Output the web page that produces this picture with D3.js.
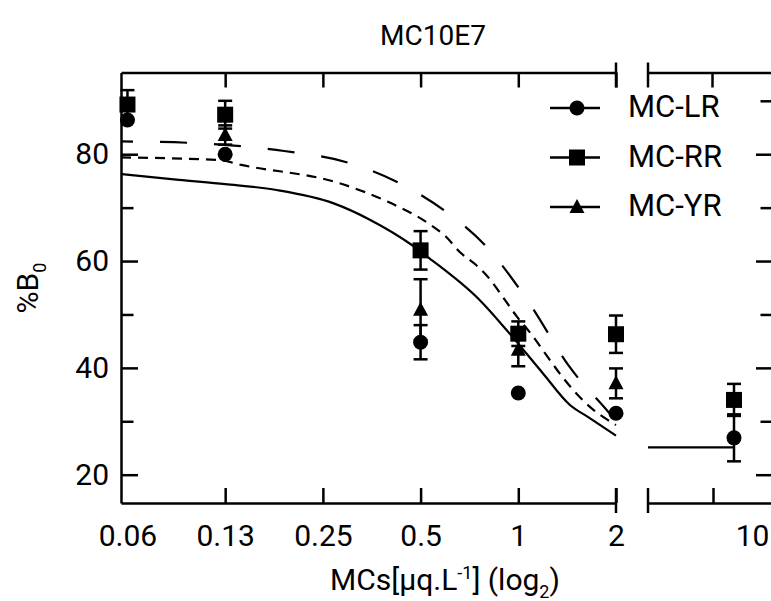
<!DOCTYPE html>
<html>
<head>
<meta charset="utf-8">
<script src="https://cdn.jsdelivr.net/npm/d3@7"></script>
<style>
  body { margin: 0; background: #fff; }
  svg { display: block; }
</style>
</head>
<body>
<svg id="chart"></svg>
<script>
// ---- data ----
const tickConcs = [0.0625, 0.125, 0.25, 0.5, 1, 2];
const tickLabels = ["0.06", "0.13", "0.25", "0.5", "1", "2"];
const yMajor = [20, 40, 60, 80];
const yMinor = [30, 50, 70, 90];

// measured points (left panel + the "10" point on the broken axis)
const pointConcs = [0.0625, 0.125, 0.5, 1, 2, 10];
const lrMean = [86.4, 80.0, 44.8, 35.3, 31.5, 26.9];
const lrErr  = [0, 0, 3.2, 0, 0, 4.4];
const rrMean = [89.3, 87.4, 62.0, 46.4, 46.3, 34.0];
const rrErr  = [2.7, 2.6, 3.6, 2.3, 3.5, 3.0];
const yrMean = [null, 83.6, 50.9, 43.4, 37.1, null];
const yrErr  = [null, 1.8, 5.7, 3.1, 2.8, null];

// fitted curves
const solidConc = [0.0597, 0.09, 0.125, 0.18, 0.27, 0.35, 0.47, 0.53, 0.76, 0.92, 1.19, 1.44, 1.66, 2];
const solidVal  = [76.3, 75.2, 74.4, 73.3, 70.8, 67.7, 63.0, 60.6, 52.7, 47.1, 39.0, 33.1, 30.6, 27.3];
const shortConc = [0.0597, 0.12, 0.14, 0.28, 0.4, 0.53, 0.6, 0.66, 0.74, 0.82, 0.9, 0.99, 1.1, 1.23, 1.34, 1.52, 1.7, 1.88, 2];
const shortVal  = [79.4, 78.9, 78.0, 74.6, 71.0, 67.0, 64.5, 61.7, 59.3, 56.5, 53.1, 49.6, 46.2, 42.1, 39.0, 35.0, 32.2, 30.3, 29.3];
const longConc  = [0.0597, 0.1, 0.19, 0.3, 0.5, 0.6, 0.8, 1.09, 1.43, 1.94, 2];
const longVal   = [82.4, 82.1, 80.6, 78.4, 72.4, 69.2, 62.6, 51.8, 40.4, 31.0, 30.0];
// flat fit segment on the right (broken) part of the axis
const rightConc = [8, 10];
const rightVal  = [25.1, 25.1];

const legendNames = ["MC-LR", "MC-RR", "MC-YR"];

// ---- setup ----
const width = 771, height = 601;
const FONT = "Roboto, 'Liberation Sans', sans-serif";
const svg = d3.select("#chart").attr("width", width).attr("height", height)
    .style("font-family", FONT);

const x = d3.scaleLog().base(2).domain([0.0597, 2]).range([121, 616]);
const x2 = d3.scaleLinear().domain([8, 12]).range([648, 820]);
const y = d3.scaleLinear().domain([14.7, 95.3]).range([503, 72.5]);

const yBottom = y.range()[0], yTop = y.range()[1];

function inkAxis(g) {
    g.attr("font-family", FONT).attr("font-size", 30);
    g.selectAll("path, line").attr("stroke", "#000").attr("stroke-width", 2.5);
    g.selectAll("text").attr("fill", "#000");
}

// left axis
svg.append("g").attr("transform", `translate(${x.range()[0]},0)`)
    .call(d3.axisLeft(y).tickValues(yMajor).tickSizeInner(-17).tickSizeOuter(0).tickPadding(12).tickFormat(d3.format("d")))
    .call(inkAxis);
svg.append("g").attr("transform", `translate(${x.range()[0]},0)`)
    .call(d3.axisLeft(y).tickValues(yMinor).tickSizeInner(-12.5).tickSizeOuter(0).tickFormat(""))
    .call(inkAxis)
    .call(g => g.select(".domain").remove());

// right axis (line sits just outside the window, ticks poke in)
svg.append("g").attr("transform", "translate(773,0)")
    .call(d3.axisLeft(y).tickValues(yMajor).tickSizeInner(17).tickSizeOuter(0).tickFormat(""))
    .call(inkAxis);
svg.append("g").attr("transform", "translate(773,0)")
    .call(d3.axisLeft(y).tickValues(yMinor).tickSizeInner(12.5).tickSizeOuter(0).tickFormat(""))
    .call(inkAxis)
    .call(g => g.select(".domain").remove());

// bottom axis, left part
svg.append("g").attr("transform", `translate(0,${yBottom})`)
    .call(d3.axisBottom(x).tickValues(tickConcs).tickFormat((d, i) => tickLabels[i])
        .tickSizeInner(-15).tickSizeOuter(0).tickPadding(22))
    .call(inkAxis)
    .call(g => g.selectAll(".tick line").filter(d => d === tickConcs[0]).remove());

// top axis, left part
svg.append("g").attr("transform", `translate(0,${yTop})`)
    .call(d3.axisTop(x).tickValues(tickConcs).tickFormat("").tickSizeInner(-15).tickSizeOuter(0))
    .call(inkAxis)
    .call(g => g.selectAll(".tick line").filter(d => d === tickConcs[0]).remove());

// right part of broken axis: tick sits left of the points, label right of them
svg.append("g").attr("transform", `translate(0,${yBottom})`)
    .call(d3.axisBottom(x2).tickValues([10]).tickFormat(d3.format("d"))
        .tickSizeInner(-15).tickSizeOuter(0).tickPadding(22))
    .call(inkAxis)
    .call(g => g.selectAll(".tick line").attr("transform", "translate(-21,0)"))
    .call(g => g.selectAll(".tick text").attr("dx", 18));
svg.append("g").attr("transform", `translate(0,${yTop})`)
    .call(d3.axisTop(x2).tickValues([10]).tickFormat("").tickSizeInner(-15).tickSizeOuter(0))
    .call(inkAxis)
    .call(g => g.selectAll(".tick line").attr("transform", "translate(-22,0)"));

// break marks
[x.range()[1], x2.range()[0]].forEach(bx => {
    svg.append("line").attr("x1", bx).attr("x2", bx).attr("y1", yBottom - 15).attr("y2", yBottom + 10)
        .attr("stroke", "#000").attr("stroke-width", 2.5);
    svg.append("line").attr("x1", bx).attr("x2", bx).attr("y1", yTop - 10).attr("y2", yTop + 15)
        .attr("stroke", "#000").attr("stroke-width", 2.5);
});

// ---- fitted curves ----
const line = d3.line().x(d => x(d[0])).y(d => y(d[1])).curve(d3.curveMonotoneX);
const curves = [
    { pts: d3.zip(solidConc, solidVal), dash: null, off: 0 },
    { pts: d3.zip(shortConc, shortVal), dash: "10,7", off: 0 },
    { pts: d3.zip(longConc, longVal), dash: "27,27", off: 15 }
];
curves.forEach(c => {
    svg.append("path").datum(c.pts)
        .attr("d", line)
        .attr("fill", "none")
        .attr("stroke", "#000")
        .attr("stroke-width", 2.2)
        .attr("stroke-dasharray", c.dash)
        .attr("stroke-dashoffset", c.off);
});
svg.append("path").datum(d3.zip(rightConc, rightVal))
    .attr("d", d3.line().x(d => x2(d[0])).y(d => y(d[1])))
    .attr("fill", "none").attr("stroke", "#000").attr("stroke-width", 2.2);

// ---- points with error bars ----
const px = c => c > 2 ? x2(c) : x(c);

const symbols = {
    circle: (g, cx, cy) => g.append("circle").attr("cx", cx).attr("cy", cy).attr("r", 7.5),
    square: (g, cx, cy) => g.append("rect").attr("x", cx - 8).attr("y", cy - 8).attr("width", 16).attr("height", 16),
    triangle: (g, cx, cy) => g.append("path").attr("d", `M${cx},${cy - 8}L${cx + 7.5},${cy + 6}L${cx - 7.5},${cy + 6}Z`)
};

const series = [
    { name: legendNames[0], mean: lrMean, err: lrErr, sym: "circle" },
    { name: legendNames[1], mean: rrMean, err: rrErr, sym: "square" },
    { name: legendNames[2], mean: yrMean, err: yrErr, sym: "triangle" }
];

const errG = svg.append("g").attr("stroke", "#000").attr("stroke-width", 2.5);
series.forEach(s => {
    pointConcs.forEach((c, i) => {
        const m = s.mean[i], e = s.err[i];
        if (m == null || !e) return;
        const cx = px(c);
        errG.append("line").attr("x1", cx).attr("x2", cx).attr("y1", y(m - e)).attr("y2", y(m + e));
        [m - e, m + e].forEach(v => {
            errG.append("line").attr("x1", cx - 7).attr("x2", cx + 7).attr("y1", y(v)).attr("y2", y(v));
        });
    });
});

const markG = svg.append("g").attr("fill", "#000");
series.forEach(s => {
    pointConcs.forEach((c, i) => {
        const m = s.mean[i];
        if (m == null) return;
        symbols[s.sym](markG, px(c), y(m));
    });
});

// ---- legend ----
const legend = svg.append("g").attr("transform", "translate(550,108)");
series.forEach((s, i) => {
    const row = legend.append("g").attr("transform", `translate(0,${i * 49.5})`);
    row.append("line").attr("x1", 0).attr("x2", 50).attr("y1", 0).attr("y2", 0)
        .attr("stroke", "#000").attr("stroke-width", 2.5);
    symbols[s.sym](row, 27, 0).attr("fill", "#000");
    row.append("text").attr("x", 78).attr("y", 9)
        .attr("font-size", 31).attr("fill", "#000").text(s.name);
});

// ---- titles ----
svg.append("text").attr("x", 433).attr("y", 45).attr("text-anchor", "middle")
    .attr("font-size", 28).attr("fill", "#000").text("MC10E7");

const xt = svg.append("text").attr("x", 445).attr("y", 590).attr("text-anchor", "middle")
    .attr("font-size", 30).attr("fill", "#000");
xt.append("tspan").text("MCs[μq.L");
xt.append("tspan").attr("font-size", 18).attr("dy", -11).text("-1");
xt.append("tspan").attr("dy", 11).text("] (log");
xt.append("tspan").attr("font-size", 18).attr("dy", 8).text("2");
xt.append("tspan").attr("dy", -8).text(")");

const yt = svg.append("text").attr("transform", "translate(38,288) rotate(-90)")
    .attr("text-anchor", "middle").attr("font-size", 30).attr("fill", "#000");
yt.append("tspan").text("%B");
yt.append("tspan").attr("font-size", 18).attr("dy", 8).text("0");
</script>
</body>
</html>
